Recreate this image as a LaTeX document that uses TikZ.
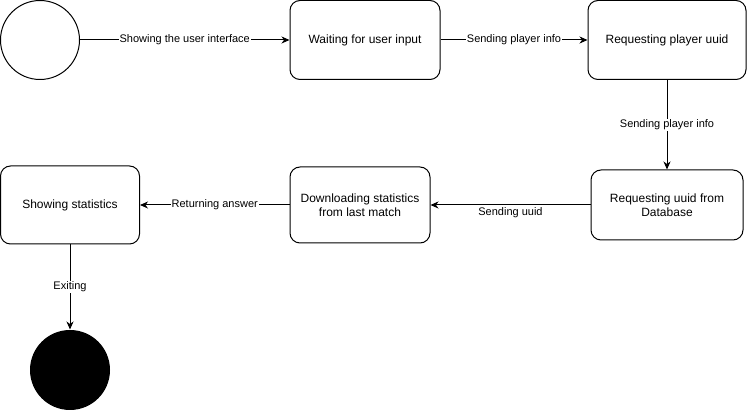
\documentclass[tikz,border=0pt]{standalone}
\usepackage{fontspec}
\setmainfont{Liberation Sans}
\usetikzlibrary{arrows.meta, positioning}

\begin{document}
\begin{tikzpicture}[x=1pt, y=-1pt, line width=1pt,
        state/.style={draw, rounded corners=10pt, align=center, inner sep=0pt,
            font=\fontsize{12}{14}\selectfont},
        lbl/.style={fill=white, inner sep=1pt, font=\fontsize{11}{13}\selectfont},
        >={Stealth[length=8pt, width=7pt, inset=2.5pt]}]
        \useasboundingbox (0,0) rectangle (748,411);
        \node [draw, circle, minimum size=79pt, inner sep=0pt] (start) at (40,40) {};
        \node [state, minimum width=150pt, minimum height=79pt] (wait) at (365,40) {Waiting for user input};
        \node [state, minimum width=158pt, minimum height=79pt] (reqplayer) at (667,40) {Requesting player uuid};
        \node [state, minimum width=152pt, minimum height=70pt] (reqdb) at (667,205) {Requesting uuid from\\Database};
        \node [state, minimum width=140pt, minimum height=76pt] (download) at (360,205) {Downloading statistics\\from last match};
        \node [state, minimum width=139pt, minimum height=78pt] (show) at (70,205) {Showing statistics};
        \node [circle, fill=black, minimum size=80pt, inner sep=0pt] (stop) at (70,370) {};

        \draw [->] (start) -- (wait) node [lbl, midway] {Showing the user interface};
        \draw [->] (wait) -- (reqplayer) node [lbl, midway] {Sending player info};
        \draw [->] (reqplayer) -- (reqdb) node [lbl, midway] {Sending player info};
        \draw [->] (reqdb) -- (download) node [midway, below, inner sep=2pt, font=\fontsize{11}{13}\selectfont] {Sending uuid};
        \draw [->] (download) -- (show) node [lbl, midway] {Returning answer};
        \draw [->] (show) -- (stop) node [lbl, midway] {Exiting};
    \end{tikzpicture}
\end{document}
